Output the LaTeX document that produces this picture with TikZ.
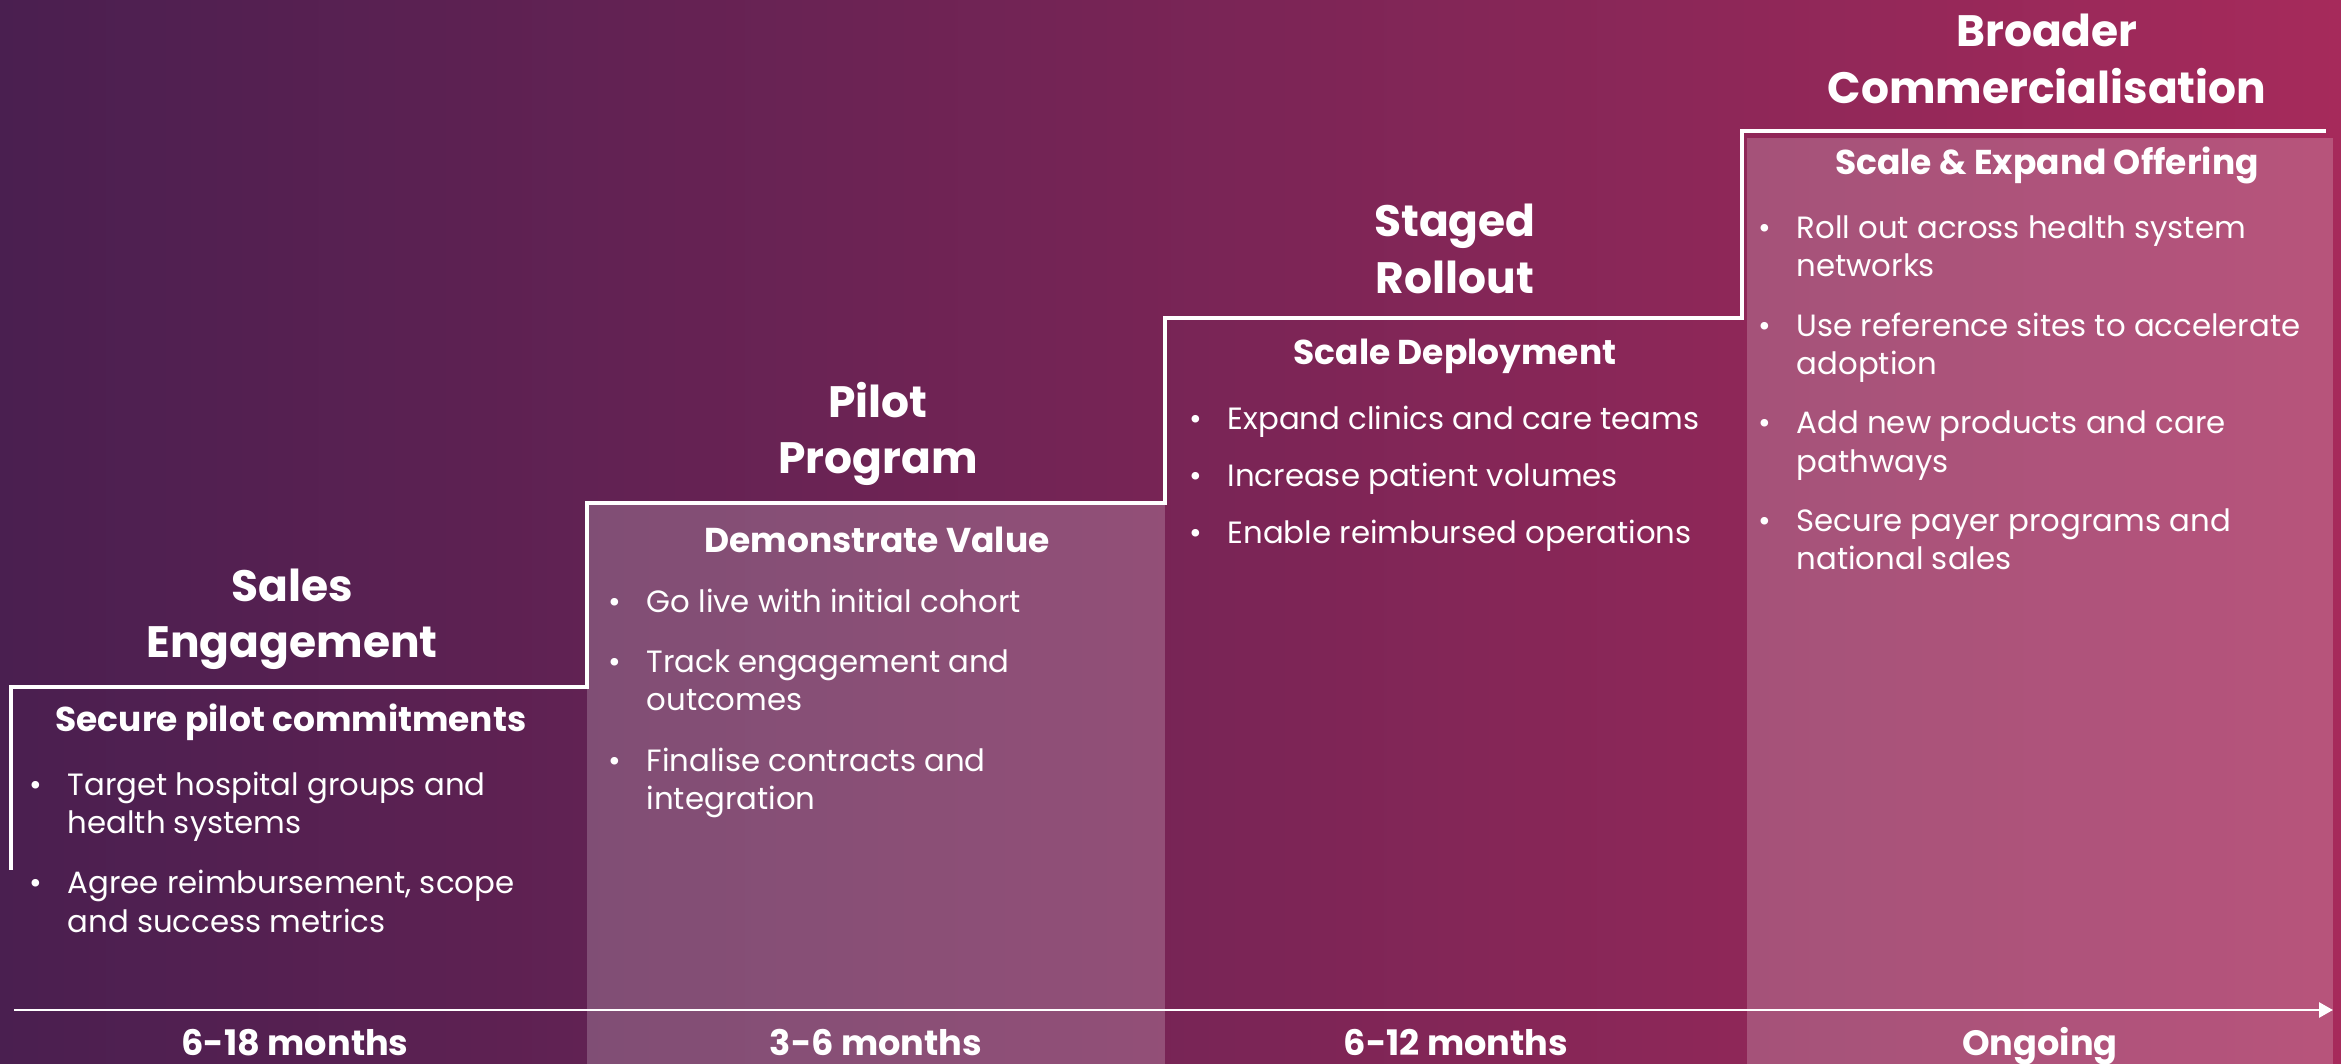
\documentclass[tikz,border=0pt]{standalone}
\usepackage{fontspec}
\setmainfont{Poppins}
\usetikzlibrary{positioning,arrows.meta}
\definecolor{plumdark}{HTML}{4A1F50}
\definecolor{plummid}{HTML}{7A2456}
\definecolor{plumpink}{HTML}{A62A5B}
\tikzset{
	phasetitle/.style={text=white, align=center, font=\bfseries\fontsize{12.5}{16}\selectfont, inner sep=0pt},
	goal/.style={text=white, font=\bfseries\fontsize{9.8}{12}\selectfont, inner sep=0pt},
	tasks/.style={text=white, align=left, anchor=north west, font=\fontsize{8.75}{10.9}\selectfont, inner sep=0pt},
	duration/.style={text=white, anchor=base, font=\bfseries\fontsize{10}{12}\selectfont, inner sep=0pt},
	stairs/.style={white, line width=1.2pt},
	timeline/.style={white, line width=0.8pt, -{Triangle[length=0.14cm, width=0.15cm]}}
}
\newcommand{\blt}{\llap{\textbullet\hspace{0.26cm}}}

\begin{document}
\begin{tikzpicture}[x=0.01cm, y=-0.01cm]
		%%%%% START %%%%%
		\useasboundingbox (0, 0) rectangle (2341, 1064);
		\shade[left color=plumdark, middle color=plummid, right color=plumpink] (0, 0) rectangle (2341, 1064);
		
		\fill[white, opacity=0.2] (587, 503) rectangle (1165, 1064);
		\fill[white, opacity=0.2] (1747, 138) rectangle (2333, 1064);
		
		\draw[stairs] (11, 870) -- (11, 687) -- (587, 687) -- (587, 503) -- (1165, 503)
			-- (1165, 318) -- (1742, 318) -- (1742, 131) -- (2326, 131);
		
		\coordinate (tstart) at (14, 1010);
		\coordinate (tend) at (2333, 1010);
		\draw[timeline] (tstart) -- (tend);
		
		% sales engagement
		\node[phasetitle] (sales) at (292, 619) {Sales\\Engagement};
		\node[goal] (salesgoal) at (291, 722) {Secure pilot commitments};
		\node[tasks] (salestasks) at (67, 771) {\blt Target hospital groups and\\health systems\\[0.22cm]
			\blt Agree reimbursement, scope\\and success metrics};
		\node[duration] (salestime) at (295, 1055) {6-18 months};
		
		% pilot program
		\node[phasetitle] (pilot) at (878, 434) {Pilot\\Program};
		\node[goal] (pilotgoal) at (877, 540) {Demonstrate Value};
		\node[tasks] (pilottasks) at (646, 588) {\blt Go live with initial cohort\\[0.22cm]
			\blt Track engagement and\\outcomes\\[0.22cm]
			\blt Finalise contracts and\\integration};
		\node[duration] (pilottime) at (876, 1055) {3-6 months};
		
		% staged rollout
		\node[phasetitle] (staged) at (1455, 249) {Staged\\Rollout};
		\node[goal] (stagedgoal) at (1455, 356) {Scale Deployment};
		\node[tasks] (stagedtasks) at (1227, 405) {\blt Expand clinics and care teams\\[0.19cm]
			\blt Increase patient volumes\\[0.19cm]
			\blt Enable reimbursed operations};
		\node[duration] (stagedtime) at (1456, 1055) {6-12 months};
		
		% broader commercialisation
		\node[phasetitle] (broader) at (2047, 59) {Broader\\Commercialisation};
		\node[goal] (broadergoal) at (2047, 165) {Scale \& Expand Offering};
		\node[tasks] (broadertasks) at (1796, 215) {\blt Roll out across health system\\networks\\[0.21cm]
			\blt Use reference sites to accelerate\\adoption\\[0.21cm]
			\blt Add new products and care\\pathways\\[0.21cm]
			\blt Secure payer programs and\\national sales};
		\node[duration] (broadertime) at (2040, 1055) {Ongoing};
		
		%%%%% END %%%%%
	\end{tikzpicture}
\end{document}
